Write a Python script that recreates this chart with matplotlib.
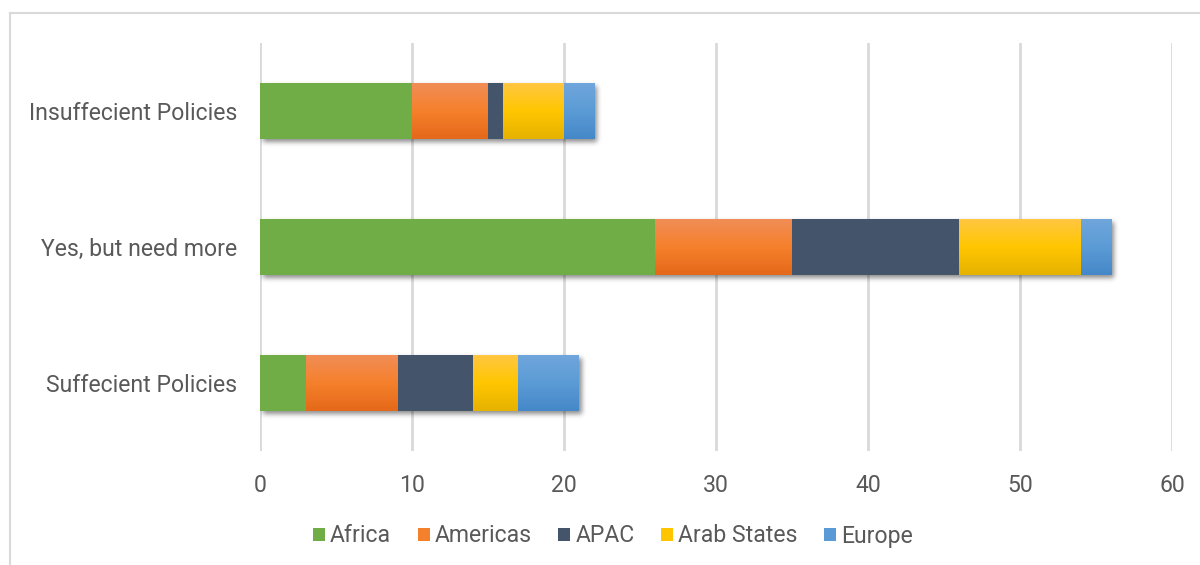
import numpy as np
import matplotlib
matplotlib.use("Agg")
import matplotlib.pyplot as plt
from matplotlib.patches import Rectangle
from matplotlib.lines import Line2D
from matplotlib.colors import to_rgb

# Survey responses by region
categories = ["Suffecient Policies", "Yes, but need more", "Insuffecient Policies"]
regions = ["Africa", "Americas", "APAC", "Arab States", "Europe"]
africa = [3, 26, 10]
americas = [6, 9, 5]
apac = [5, 11, 1]
arab_states = [3, 8, 4]
europe = [4, 2, 2]
x_ticks = [0, 10, 20, 30, 40, 50, 60]

series = [africa, americas, apac, arab_states, europe]

# (top, middle, bottom) shading for each region
shades = {
    "Africa": ("#70AD47", "#70AD47", "#70AD47"),
    "Americas": ("#F18D57", "#F5802B", "#E4691A"),
    "APAC": ("#44546A", "#44546A", "#44546A"),
    "Arab States": ("#FFC742", "#FFC600", "#E6B200"),
    "Europe": ("#6FA6DC", "#5B9BD5", "#4588C9"),
}

W, H = 1200, 565
plt.rcParams["font.family"] = ["Roboto", "DejaVu Sans"]
text_color = "#595959"
grid_color = "#D9D9D9"
fs = 16.6

fig = plt.figure(figsize=(W / 100, H / 100), dpi=100)
ax_l, ax_r, ax_t, ax_b = 260, 1172, 43, 451
ax = fig.add_axes([ax_l / W, 1 - ax_b / H, (ax_r - ax_l) / W, (ax_b - ax_t) / H])

y = np.arange(len(categories))
bar_h = 0.405
xmin, xmax = 0, 60
ymin, ymax = -0.5, len(categories) - 0.5

# soft drop shadow under each bar
nx, ny = ax_r - ax_l, ax_b - ax_t
px_x = (xmax - xmin) / nx
px_y = (ymax - ymin) / ny
shadow = np.zeros((ny, nx))
totals = np.sum(np.array(series), axis=0)
dx, dy = 3, 3
for yi, tot in zip(y, totals):
    c0 = int(round((0 - xmin) / px_x)) + dx
    c1 = int(round((tot - xmin) / px_x)) + dx
    r0 = int(round((ymax - (yi + bar_h / 2)) / px_y)) + dy
    r1 = int(round((ymax - (yi - bar_h / 2)) / px_y)) + dy
    shadow[max(r0, 0):min(r1, ny), max(c0, 0):min(c1, nx)] = 1.0
sig = 2.5
k = np.arange(-8, 9)
g = np.exp(-k ** 2 / (2 * sig ** 2))
g /= g.sum()
shadow = np.apply_along_axis(lambda v: np.convolve(v, g, mode="same"), 0, shadow)
shadow = np.apply_along_axis(lambda v: np.convolve(v, g, mode="same"), 1, shadow)
rgba = np.zeros((ny, nx, 4))
rgba[..., 3] = shadow * 0.45
ax.imshow(rgba, extent=(xmin, xmax, ymin, ymax), origin="upper",
          aspect="auto", zorder=2, interpolation="bilinear")


def gradient_image(name, n=64):
    top, mid, bot = (np.array(to_rgb(c)) for c in shades[name])
    t = np.linspace(0, 1, n)[:, None]
    upper = top + (mid - top) * np.clip(t * 2, 0, 1)
    lower = mid + (bot - mid) * np.clip(t * 2 - 1, 0, 1)
    img = np.where(t < 0.5, upper, lower)
    return img[:, None, :]


left = np.zeros(len(categories))
for name, vals in zip(regions, series):
    vals = np.array(vals, dtype=float)
    bars = ax.barh(y, vals, height=bar_h, left=left, color=shades[name][1],
                   linewidth=0, zorder=3)
    if len(set(shades[name])) > 1:
        img = gradient_image(name)
        for b in bars:
            x0, y0 = b.get_x(), b.get_y()
            w, h = b.get_width(), b.get_height()
            im = ax.imshow(img, extent=(x0, x0 + w, y0, y0 + h), origin="upper",
                           aspect="auto", zorder=3.5, interpolation="bilinear")
            im.set_clip_path(b)
    left += vals

ax.set_xlim(xmin, xmax)
ax.set_ylim(ymin, ymax)
ax.set_xticks(x_ticks)
ax.set_yticks(y)
ax.set_yticklabels(categories)
ax.xaxis.grid(True, color=grid_color, linewidth=2)
ax.set_axisbelow(True)
for s in ax.spines.values():
    s.set_visible(False)
ax.tick_params(axis="both", length=0, labelsize=fs, labelcolor=text_color)
ax.tick_params(axis="x", pad=16.5)
ax.tick_params(axis="y", pad=16.5)

# legend
handles = [Rectangle((0, 0), 1, 1, facecolor=shades[n][1], linewidth=0) for n in regions]
fig.legend(handles, regions, loc="center", bbox_to_anchor=(613 / W, 1 - 536 / H),
           ncol=len(regions), frameon=False, fontsize=fs, labelcolor=text_color,
           handlelength=0.52, handleheight=0.52, handletextpad=0.22,
           columnspacing=1.15, borderpad=0)

# chart area outline
fig.add_artist(Line2D([10 / W, 10 / W], [1 - 13 / H, 0], transform=fig.transFigure,
                      color=grid_color, linewidth=1.5))
fig.add_artist(Line2D([10 / W, 1], [1 - 13 / H, 1 - 13 / H], transform=fig.transFigure,
                      color=grid_color, linewidth=1.5))

fig.savefig("out.png", dpi=100, facecolor="white")
